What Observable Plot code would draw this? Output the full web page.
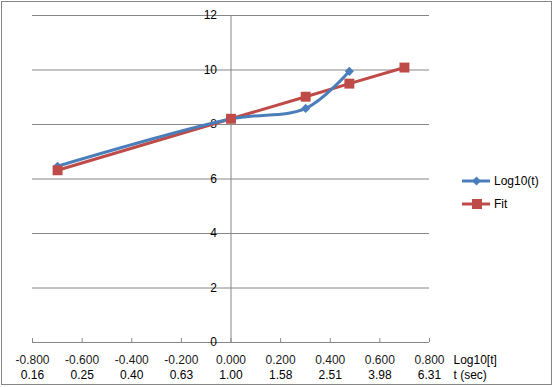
<!DOCTYPE html>
<html>
<head>
<meta charset="utf-8">
<script src="https://cdn.jsdelivr.net/npm/d3@7"></script>
<script src="https://cdn.jsdelivr.net/npm/@observablehq/plot@0.6"></script>
<style>
  html, body { margin: 0; padding: 0; background: #fff; }
  #wrap { position: relative; width: 553px; height: 387px; overflow: hidden; font-family: "Liberation Sans", Arial, sans-serif; }
  #frame { position: absolute; left: 1px; top: 1px; width: 551px; height: 384px; box-sizing: border-box; border: 1px solid #868686; pointer-events: none; }
  #chart { position: absolute; left: 0; top: 0; }
  .leg { position: absolute; left: 462px; font-size: 12px; color: #000; display: flex; align-items: center; }
  .leg svg { display: block; margin-right: 3px; }
</style>
</head>
<body>
<div id="wrap">
  <div id="chart"></div>
  <div id="frame"></div>
  <div class="leg" style="top:174px"><svg width="29" height="12"><line x1="0" y1="6" x2="28" y2="6" stroke="#4A7EBB" stroke-width="3"/><path d="M14.5,1.5 L19,6 L14.5,10.5 L10,6 Z" fill="#4A7EBB"/></svg><span>Log10(t)</span></div>
  <div class="leg" style="top:197px"><svg width="29" height="12"><line x1="0" y1="6" x2="28" y2="6" stroke="#BE4B48" stroke-width="3"/><rect x="10" y="1" width="10" height="10" fill="#BE4B48"/></svg><span>Fit</span></div>
</div>
<script>
// Series 1: Log10(t) (blue, smoothed)
const logX = [-0.699, 0.0, 0.301, 0.477];
const logY = [6.47, 8.2, 8.59, 9.95];
// Series 2: Fit (red)
const fitX = [-0.699, 0.0, 0.301, 0.477, 0.699];
const fitY = [6.32, 8.21, 9.02, 9.5, 10.09];
// Axis ticks and labels
const xTicks = [-0.8, -0.6, -0.4, -0.2, 0.0, 0.2, 0.4, 0.6, 0.8];
const xLabels = ["-0.800", "-0.600", "-0.400", "-0.200", "0.000", "0.200", "0.400", "0.600", "0.800"];
const tLabels = ["0.16", "0.25", "0.40", "0.63", "1.00", "1.58", "2.51", "3.98", "6.31"];
const yTicks = [0, 2, 4, 6, 8, 10, 12];
const xTitle = "Log10[t]";
const tTitle = "t (sec)";

const logData = logX.map((x, i) => ({x, y: logY[i]}));
const fitData = fitX.map((x, i) => ({x, y: fitY[i]}));
const xt = xTicks.map((x, i) => ({x, a: xLabels[i], b: tLabels[i]}));

const blue = "#4A7EBB", red = "#BE4B48", grid = "#868686";

const chart = Plot.plot({
  width: 553,
  height: 387,
  marginLeft: 32,
  marginRight: 124,
  marginTop: 15,
  marginBottom: 45,
  style: {fontFamily: "'Liberation Sans', Arial, sans-serif", fontSize: "12px", background: "transparent"},
  x: {domain: [-0.8, 0.8], axis: null},
  y: {domain: [0, 12], axis: null},
  marks: [
    Plot.ruleY(yTicks, {stroke: grid, strokeWidth: 1, strokeOpacity: 1}),
    Plot.ruleX([0], {y1: 0, y2: 12, stroke: grid, strokeWidth: 1}),
    Plot.ruleX(xTicks, {y1: 0, y2: 0.14, stroke: grid, strokeWidth: 1}),
    Plot.text(yTicks, {x: 0, y: d => d, text: d => String(d), textAnchor: "end", dx: -14, fill: "#000"}),
    Plot.text(xt, {x: "x", frameAnchor: "bottom", dy: 21, text: "a", fill: "#1a1a1a"}),
    Plot.text(xt, {x: "x", frameAnchor: "bottom", dy: 36, text: "b", fill: "#000"}),
    Plot.text([xTitle], {x: 0.8, frameAnchor: "bottom", dy: 21, dx: 24, text: d => d, textAnchor: "start", fill: "#000"}),
    Plot.text([tTitle], {x: 0.8, frameAnchor: "bottom", dy: 36, dx: 24, text: d => d, textAnchor: "start", fill: "#000"}),
    Plot.line(fitData, {x: "x", y: "y", stroke: red, strokeWidth: 3}),
    Plot.line(logData, {x: "x", y: "y", stroke: blue, strokeWidth: 3, curve: "catmull-rom"}),
    Plot.dot(logData, {x: "x", y: "y", symbol: "diamond2", r: 4.1, fill: blue, stroke: "none"}),
    Plot.dot(fitData, {x: "x", y: "y", symbol: "square", r: 5.6, fill: red, stroke: "none"})
  ]
});
document.getElementById("chart").appendChild(chart);
</script>
</body>
</html>
